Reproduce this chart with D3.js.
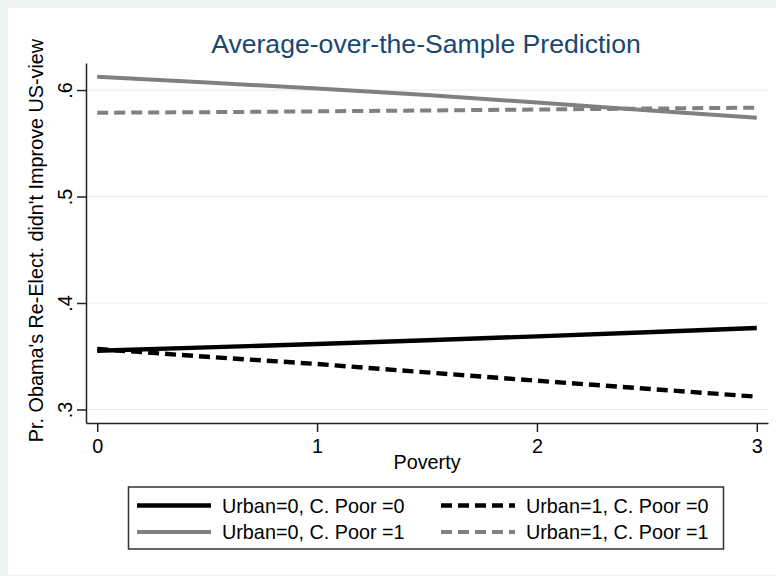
<!DOCTYPE html>
<html>
<head>
<meta charset="utf-8">
<script src="https://cdn.jsdelivr.net/npm/d3@7"></script>
<style>
  body{margin:0;background:#eef3f4;}
  svg{display:block;font-family:"Liberation Sans",Arial,sans-serif;}
</style>
</head>
<body>
<svg id="chart" width="776" height="576"></svg>
<script>
// values
const poverty = [0, 0.5, 1, 1.5, 2, 2.5, 3];
const urban0poor0 = [0.3552, 0.3583, 0.3615, 0.3650, 0.3687, 0.3725, 0.3765];
const urban1poor0 = [0.3568, 0.3495, 0.3427, 0.3348, 0.3270, 0.3195, 0.3120];
const urban0poor1 = [0.6125, 0.6070, 0.6015, 0.5953, 0.5883, 0.5810, 0.5740];
const urban1poor1 = [0.5787, 0.5792, 0.5800, 0.5808, 0.5817, 0.5826, 0.5835];
const seriesNames = ['Urban=0, C. Poor =0', 'Urban=1, C. Poor =0', 'Urban=0, C. Poor =1', 'Urban=1, C. Poor =1'];
const xTicks = [0, 1, 2, 3];
const yTicks = [0.3, 0.4, 0.5, 0.6];

const series = [urban0poor0, urban1poor0, urban0poor1, urban1poor1];
const looks = [
  {color:'#000', dash:null, w:4.4},
  {color:'#000', dash:'11,6', w:4.4},
  {color:'#808080', dash:null, w:4},
  {color:'#808080', dash:'11,6', w:4}
];

const svg = d3.select('#chart');
const plotL = 86, plotR = 768, plotT = 63, plotB = 423;

svg.append('rect').attr('x', 8).attr('y', 8).attr('width', 768).attr('height', 567).attr('fill', '#fff');

const x = d3.scaleLinear().domain([-0.051, 3.051]).range([plotL, plotR]);
const y = d3.scaleLinear().domain([0.2873, 0.6254]).range([plotB, plotT]);

// grid
svg.append('g').selectAll('line').data(yTicks).join('line')
  .attr('x1', plotL).attr('x2', plotR)
  .attr('y1', d => y(d)).attr('y2', d => y(d))
  .attr('stroke', '#e6eef0').attr('stroke-width', 1.2);

// title
svg.append('text').attr('x', 426).attr('y', 53).attr('text-anchor', 'middle')
  .attr('font-size', 26.6).attr('fill', '#1a476f').text('Average-over-the-Sample Prediction');

// axes
const yAxis = svg.append('g').attr('transform', `translate(${plotL},0)`)
  .call(d3.axisLeft(y).tickValues(yTicks).tickSize(9).tickSizeOuter(0)
    .tickFormat(d => d3.format('.1f')(d).replace(/^0/, '')));
yAxis.selectAll('text').attr('transform', 'rotate(-90)').attr('text-anchor', 'middle')
  .attr('x', 0).attr('y', -14).attr('dy', 0).attr('font-size', 19.8).attr('fill', '#000');

const xAxis = svg.append('g').attr('transform', `translate(0,${plotB})`)
  .call(d3.axisBottom(x).tickValues(xTicks).tickSize(9).tickSizeOuter(0).tickFormat(d3.format('d')));
xAxis.selectAll('text').attr('y', 30).attr('dy', 0).attr('font-size', 19.8).attr('fill', '#000');

[yAxis, xAxis].forEach(a => {
  a.select('.domain').attr('stroke', '#222').attr('stroke-width', 1.5);
  a.selectAll('.tick line').attr('stroke', '#222').attr('stroke-width', 1.5);
});

svg.append('text').attr('x', (plotL + plotR) / 2).attr('y', 469).attr('text-anchor', 'middle')
  .attr('font-size', 19.8).attr('fill', '#000').text('Poverty');

svg.append('text').attr('transform', `translate(42.5,${(38 + 443) / 2}) rotate(-90)`)
  .attr('text-anchor', 'middle').attr('font-size', 19.8).attr('fill', '#000')
  .text("Pr. Obama's Re-Elect. didn't Improve US-view");

// lines
const line = d3.line().x((d, i) => x(poverty[i])).y(d => y(d));
svg.append('g').selectAll('path').data(series).join('path')
  .attr('d', line).attr('fill', 'none')
  .attr('stroke', (d, i) => looks[i].color)
  .attr('stroke-width', (d, i) => looks[i].w)
  .attr('stroke-dasharray', (d, i) => looks[i].dash);

// legend
const lg = svg.append('g');
lg.append('rect').attr('x', 128.5).attr('y', 487).attr('width', 595).attr('height', 62)
  .attr('fill', '#fff').attr('stroke', '#333').attr('stroke-width', 1.5);
const cols = [137, 441], rows = [505.5, 532];
seriesNames.forEach((name, i) => {
  const cx = cols[i % 2], cy = rows[Math.floor(i / 2)];
  lg.append('line').attr('x1', cx).attr('x2', cx + 74).attr('y1', cy).attr('y2', cy)
    .attr('stroke', looks[i].color).attr('stroke-width', looks[i].w)
    .attr('stroke-dasharray', looks[i].dash);
  lg.append('text').attr('x', cx + 85).attr('y', cy + 7).attr('font-size', 19.8)
    .attr('fill', '#000').text(name);
});
</script>
</body>
</html>
